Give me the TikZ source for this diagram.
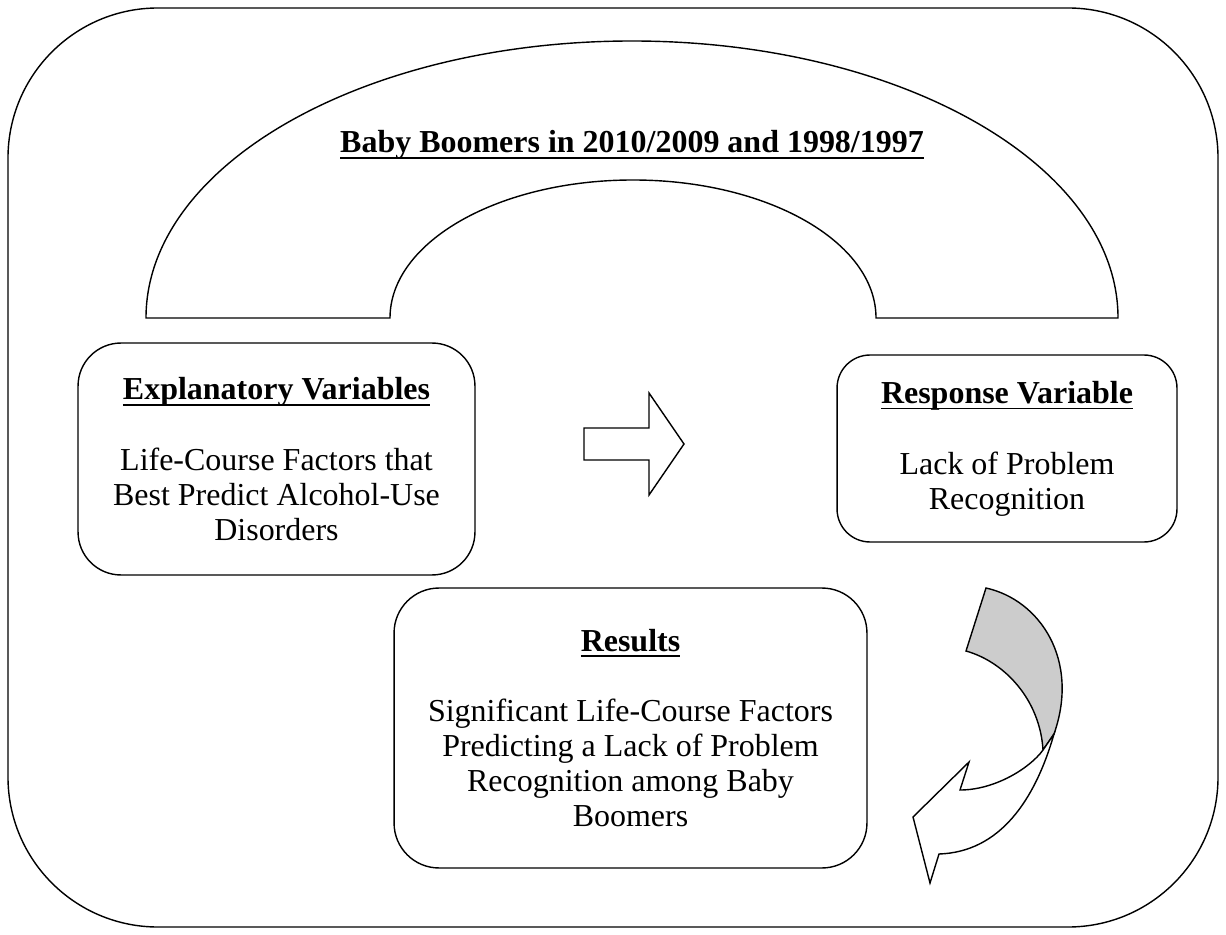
\documentclass[tikz,border=0pt]{standalone}
\usepackage{fontspec}
\setmainfont{Liberation Serif}

\newcommand{\uhead}[1]{\setbox0\hbox{\bfseries #1}\rlap{\rule[-3.6pt]{\wd0}{1.1pt}}\box0}

\begin{document}
\begin{tikzpicture}[x=0.02cm, y=-0.02cm,
  every node/.style={font=\fontsize{18.2}{19.9}\selectfont, align=center},
  panel/.style={draw, line width=0.8pt, rounded corners=#1, inner sep=0pt},
  panel/.default=0.8cm,
  outline/.style={draw, line width=0.8pt, line join=miter},
  back/.style={outline, fill=black!20},
  front/.style={outline, fill=white}
]
\useasboundingbox (0,0) rectangle (1226,935);
\draw[line width=0.8pt, rounded corners=3cm] (8,8) rectangle (1218,927);

% arch over the whole study
\draw[outline] (146,318) arc[start angle=180, end angle=360, x radius=486, y radius=277]
  -- (876,318) arc[start angle=0, end angle=-180, x radius=243, y radius=138] -- cycle;
\node[anchor=base] (head) at (632,153) {\uhead{Baby Boomers in 2010/2009 and 1998/1997}};

\node[panel=0.86cm, minimum width=7.94cm, minimum height=4.64cm] (expl) at (276.5,459)
  {\uhead{Explanatory Variables}\\[20.5pt]Life-Course Factors that\\Best Predict Alcohol-Use\\Disorders};
\node[panel=0.66cm, minimum width=6.8cm, minimum height=3.74cm] (resp) at (1007,448.5)
  {\uhead{Response Variable}\\[20.5pt]Lack of Problem\\Recognition};
\node[panel=0.9cm, minimum width=9.46cm, minimum height=5.6cm] (res) at (630.5,728)
  {\uhead{Results}\\[20.5pt]Significant Life-Course Factors\\Predicting a Lack of Problem\\Recognition among Baby\\Boomers};

% block arrow
\draw[outline] (584,428) -- (649,428) -- (649,393) -- (684,444) -- (649,495)
  -- (649,460) -- (584,460) -- cycle;

% curved arrow
\draw[back] (986,588) .. controls (1040,600) and (1080,660) .. (1054,734)
  -- (1043,750) .. controls (1040,700) and (1005,662) .. (966,651) -- cycle;
\draw[front] (1054,734) .. controls (1035,800) and (1000,852) .. (939,854)
  -- (930,883) -- (913,817) -- (969,762) -- (960,790)
  .. controls (995,790) and (1030,768) .. (1043,750) -- cycle;
\end{tikzpicture}
\end{document}
